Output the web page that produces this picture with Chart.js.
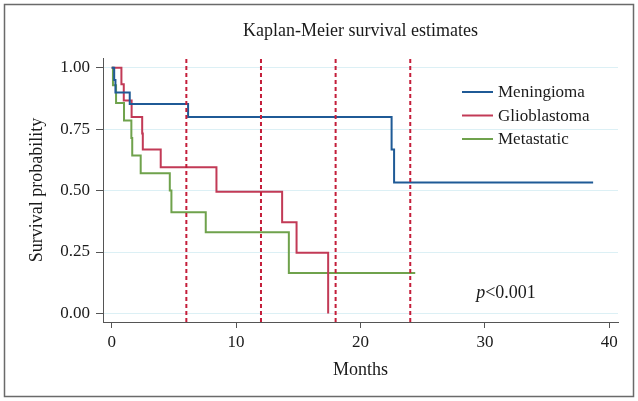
<!DOCTYPE html>
<html>
<head>
<meta charset="utf-8">
<script src="https://cdn.jsdelivr.net/npm/chart.js@4.4.1/dist/chart.umd.min.js"></script>
<style>
  html, body { margin: 0; padding: 0; background: #fff; }
  canvas { display: block; }
</style>
</head>
<body>
<canvas id="c" width="638" height="401"></canvas>
<script>
// ---- data ----
const seriesNames = ["Meningioma", "Glioblastoma", "Metastatic"];
const meningiomaTime = [0, 0.2, 0.3, 1.45, 6.14, 22.5, 22.7, 38.7];
const meningiomaSurv = [1, 0.95, 0.90, 0.853, 0.80, 0.667, 0.533, 0.533];
const glioblastomaTime = [0, 0.78, 0.97, 1.6, 2.45, 2.5, 3.94, 8.42, 13.7, 14.86, 17.4];
const glioblastomaSurv = [1, 0.933, 0.867, 0.80, 0.733, 0.667, 0.595, 0.495, 0.371, 0.247, 0];
const metastaticTime = [0, 0.1, 0.35, 0.99, 1.58, 1.65, 2.33, 4.67, 4.8, 7.56, 14.24, 24.4];
const metastaticSurv = [1, 0.929, 0.857, 0.786, 0.714, 0.643, 0.571, 0.50, 0.412, 0.33, 0.165, 0.165];
const cutoffMonths = [6, 12, 18, 24];
const xTicks = [0, 10, 20, 30, 40];
const yTicks = [0, 0.25, 0.5, 0.75, 1];
const titleText = "Kaplan-Meier survival estimates";
const xTitle = "Months";
const yTitle = "Survival probability";

const colors = ["#1f5a96", "#c23a56", "#6fa24c"];
const dashColor = "#c41e3a";
const FONT = "'Liberation Serif', 'DejaVu Serif', serif";
const Y_MIN = -0.035, Y_MAX = 1.04;

function pts(t, s) { return t.map((x, i) => ({ x: x, y: s[i] })); }

const datasets = [];
cutoffMonths.forEach(m => {
  datasets.push({
    label: "cut" + m,
    data: [{ x: m, y: Y_MIN }, { x: m, y: Y_MAX }],
    borderColor: dashColor,
    borderWidth: 2,
    borderDash: [4, 3],
    pointRadius: 0,
    fill: false
  });
});
const survData = [pts(meningiomaTime, meningiomaSurv), pts(glioblastomaTime, glioblastomaSurv), pts(metastaticTime, metastaticSurv)];
survData.forEach((d, i) => {
  datasets.push({
    label: seriesNames[i],
    data: d,
    stepped: true,
    borderColor: colors[i],
    borderWidth: 2,
    pointRadius: 0,
    fill: false,
    isSurv: true
  });
});

const decor = {
  id: 'decor',
  beforeDraw(chart) {
    const ctx = chart.ctx;
    ctx.save();
    ctx.fillStyle = '#fff';
    ctx.fillRect(0, 0, chart.width, chart.height);
    ctx.strokeStyle = '#6a6a6a';
    ctx.lineWidth = 1.5;
    ctx.strokeRect(4.5, 4.5, 629, 392);
    ctx.restore();
  },
  afterDraw(chart) {
    const ctx = chart.ctx;
    const a = chart.chartArea;
    const xs = chart.scales.x, ys = chart.scales.y;
    ctx.save();
    ctx.fillStyle = '#1a1a1a';
    // title
    ctx.font = "18px " + FONT;
    ctx.textAlign = 'center';
    ctx.textBaseline = 'middle';
    ctx.fillText(titleText, (a.left + a.right) / 2, 31);
    // x title
    ctx.font = "18px " + FONT;
    ctx.fillText(xTitle, (a.left + a.right) / 2, 370);
    // y title
    ctx.save();
    ctx.translate(37, (a.top + a.bottom) / 2);
    ctx.rotate(-Math.PI / 2);
    ctx.fillText(yTitle, 0, 0);
    ctx.restore();
    // legend
    ctx.font = "17px " + FONT;
    ctx.textAlign = 'left';
    const legY = [92, 115.5, 139];
    chart.data.datasets.filter(d => d.isSurv).forEach((d, i) => {
      ctx.strokeStyle = d.borderColor;
      ctx.lineWidth = 2;
      ctx.beginPath();
      ctx.moveTo(462, legY[i]);
      ctx.lineTo(493, legY[i]);
      ctx.stroke();
      ctx.fillText(d.label, 498, legY[i] + 1);
    });
    // p-value
    const px = xs.getPixelForValue(29.3), py = ys.getPixelForValue(0.084);
    ctx.font = "italic 18px " + FONT;
    ctx.fillText("p", px, py);
    const w = ctx.measureText("p").width;
    ctx.font = "18px " + FONT;
    ctx.fillText("<0.001", px + w, py);
    ctx.restore();
  }
};

new Chart(document.getElementById('c'), {
  type: 'line',
  data: { datasets: datasets },
  options: {
    responsive: false,
    devicePixelRatio: 1,
    animation: false,
    layout: { padding: { left: 0, right: 20, top: 58, bottom: 0 } },
    plugins: { legend: { display: false }, tooltip: { enabled: false }, title: { display: false } },
    scales: {
      x: {
        type: 'linear',
        min: -0.7, max: 40.7,
        afterFit(s) { s.height = 79; },
        afterBuildTicks(s) { s.ticks = xTicks.map(v => ({ value: v })); },
        grid: { drawOnChartArea: false, drawTicks: true, tickLength: 6, tickColor: '#555', tickWidth: 1 },
        border: { display: true, color: '#555', width: 1 },
        ticks: { color: '#1a1a1a', font: { family: FONT, size: 17 }, padding: 4, maxRotation: 0,
                 callback: v => String(v) }
      },
      y: {
        type: 'linear',
        min: Y_MIN, max: Y_MAX,
        afterFit(s) { s.width = 103; },
        afterBuildTicks(s) { s.ticks = yTicks.map(v => ({ value: v })); },
        grid: { color: '#dcf0f5', lineWidth: 1, drawTicks: true, tickLength: 7, tickColor: '#555', tickWidth: 1 },
        border: { display: true, color: '#555', width: 1 },
        ticks: { color: '#1a1a1a', font: { family: FONT, size: 17 }, padding: 6,
                 callback: v => Number(v).toFixed(2) }
      }
    }
  },
  plugins: [decor]
});
</script>
</body>
</html>
